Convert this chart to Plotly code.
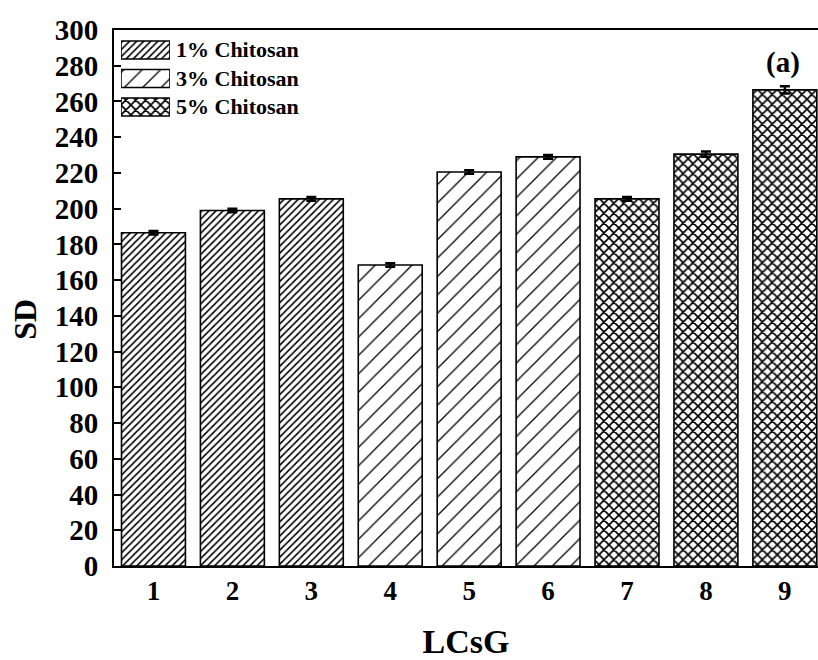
import plotly.graph_objects as go

# LCsG formulations and their SD measurements
samples = [1, 2, 3, 4, 5, 6, 7, 8, 9]
groups = ["1% Chitosan", "3% Chitosan", "5% Chitosan"]
group_samples = [[1, 2, 3], [4, 5, 6], [7, 8, 9]]
sd_values = [186.5, 199, 205.5, 168.5, 220.5, 229, 205.5, 230.5, 266.5]
sd_errors = [1, 1, 1, 1, 1, 1, 1, 1.5, 2]
y_ticks = list(range(0, 301, 20))

SERIF = "Times New Roman, Liberation Serif, serif"

# hatch style for each chitosan level
patterns = [
    dict(shape="/", size=5, solidity=0.32),
    dict(shape="/", size=13, solidity=0.1),
    dict(shape="x", size=7, solidity=0.42),
]


def bar_marker(pat):
    return dict(
        color="white",
        line=dict(color="black", width=1.6),
        pattern=dict(fgcolor="black", bgcolor="white", fillmode="replace", **pat),
    )


fig = go.Figure()
for name, members, pat in zip(groups, group_samples, patterns):
    idx = [samples.index(s) for s in members]
    fig.add_trace(go.Bar(
        x=members,
        y=[sd_values[i] for i in idx],
        name=name,
        width=0.81,
        showlegend=False,
        marker=bar_marker(pat),
        error_y=dict(type="data", array=[sd_errors[i] for i in idx],
                     color="black", thickness=2.5, width=5, visible=True),
    ))

# key: wide hatched swatches in a small inset axis, labelled with annotations
for k, (name, pat) in enumerate(zip(groups, patterns)):
    fig.add_trace(go.Bar(
        x=[1], y=[k], base=0, orientation="h", width=0.63,
        xaxis="x2", yaxis="y2", showlegend=False, hoverinfo="skip",
        marker=bar_marker(pat),
    ))

annotations = [dict(
    text=f"<b>{name}</b>", x=1, y=k, xref="x2", yref="y2",
    xanchor="left", yanchor="middle", xshift=4, showarrow=False,
    font=dict(family=SERIF, size=22, color="black"),
) for k, name in enumerate(groups)]

annotations.append(dict(
    text="<b>(a)</b>", x=0.977, y=0.94, xref="paper", yref="paper",
    xanchor="right", yanchor="middle", showarrow=False,
    font=dict(family=SERIF, size=29, color="black"),
))
annotations.append(dict(
    text="<b>SD</b>", x=-0.126, y=0.46, xref="paper", yref="paper",
    xanchor="center", yanchor="middle", textangle=-90, showarrow=False,
    font=dict(family=SERIF, size=32, color="black"),
))

fig.update_layout(
    width=818, height=660,
    margin=dict(l=114, r=0, t=30, b=94),
    paper_bgcolor="white", plot_bgcolor="white",
    font=dict(family=SERIF, color="black"),
    barmode="overlay",
    showlegend=False,
    annotations=annotations,
    xaxis=dict(
        range=[0.5, 9.42],
        tickvals=samples, ticktext=[str(s) for s in samples],
        ticks="", showgrid=False, zeroline=False, automargin=False,
        showline=True, linecolor="black", linewidth=2, mirror=True,
        tickfont=dict(family=SERIF, size=27, color="black", weight="bold"),
        ticklabelstandoff=0,
        title=dict(text="<b>LCsG</b>", font=dict(family=SERIF, size=34, color="black"), standoff=30),
    ),
    yaxis=dict(
        range=[0, 300],
        tickvals=y_ticks, ticktext=[str(v) for v in y_ticks],
        ticks="inside", ticklen=7, tickwidth=1.5, tickcolor="black",
        showgrid=False, zeroline=False, automargin=False,
        showline=True, linecolor="black", linewidth=2, mirror=False,
        tickfont=dict(family=SERIF, size=29, color="black", weight="bold"),
        ticklabelstandoff=8,
    ),
    xaxis2=dict(domain=[0.0099, 0.0795], range=[0, 1], anchor="y2",
                visible=False, fixedrange=True),
    yaxis2=dict(domain=[0.8298, 0.9893], range=[2.5, -0.5], anchor="x2",
                visible=False, fixedrange=True),
)

fig.write_html("out.html")
